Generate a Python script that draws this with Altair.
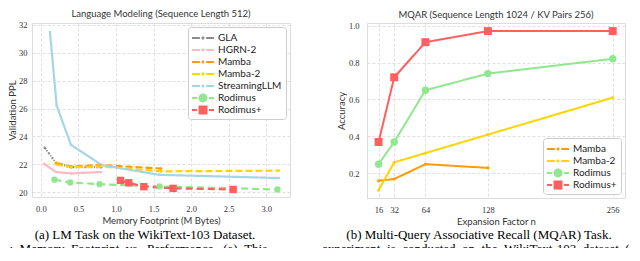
import altair as alt
import pandas as pd

# ---------------- data: left panel (LM on WikiText-103) ----------------
lm_series = ["GLA", "HGRN-2", "Mamba", "Mamba-2", "StreamingLLM", "Rodimus", "Rodimus+"]
lm_colors = ["#8a8a8a", "#ffb8c4", "#ff9c00", "#ffd400", "#a6d5e6", "#8fe88f", "#ff5f5f"]

gla_mem = [0.05, 0.2, 0.4, 0.8]
gla_ppl = [23.2, 22.1, 21.8, 21.8]
hgrn_mem = [0.04, 0.2, 0.4, 0.8]
hgrn_ppl = [22.05, 21.45, 21.35, 21.45]
mamba_mem = [0.2, 0.4, 0.8, 1.6]
mamba_ppl = [22.1, 21.85, 21.95, 21.7]
mamba2_mem = [0.2, 0.4, 0.8, 1.6, 3.17]
mamba2_ppl = [22.0, 21.8, 21.85, 21.5, 21.55]
stream_mem = [0.12, 0.21, 0.40, 0.81, 1.58, 3.17]
stream_ppl = [31.5, 26.2, 23.4, 21.95, 21.25, 21.02]
rod_mem = [0.18, 0.39, 0.78, 1.58, 3.15]
rod_ppl = [20.9, 20.7, 20.58, 20.42, 20.2]
rodp_mem = [1.06, 1.17, 1.37, 1.76, 2.56]
rodp_ppl = [20.85, 20.68, 20.4, 20.28, 20.2]

lm_x_ticks = [0.0, 0.5, 1.0, 1.5, 2.0, 2.5, 3.0]
lm_y_ticks = [20, 22, 24, 26, 28, 30, 32]

# ---------------- data: right panel (MQAR) ----------------
mq_series = ["Mamba", "Mamba-2", "Rodimus", "Rodimus+"]
mq_colors = ["#ff9c00", "#ffd400", "#8fe88f", "#ff5f5f"]
mq_n = [16, 32, 64, 128, 256]
mq_mamba = [0.16, 0.17, 0.25, 0.23]
mq_mamba2 = [0.11, 0.26, 0.31, 0.41, 0.61]
mq_rod = [0.25, 0.37, 0.65, 0.74, 0.82]
mq_rodp = [0.37, 0.72, 0.91, 0.97, 0.97]
mq_y_ticks = [0.2, 0.4, 0.6, 0.8, 1.0]

caption_a = "(a) LM Task on the WikiText-103 Dataset."
caption_b = "(b) Multi-Query Associative Recall (MQAR) Task."
NB = "\u00a0\u00a0"
body_left = NB.join(["1:", "Memory", "Footprint", "vs.", "Performance.", "(a)", "This"])
body_right = NB.join(["experiment", "is", "conducted", "on", "the", "WikiText-103", "dataset", "("])

SANS = "Lato"
SERIF = "Liberation Serif"


def rect(a, b, h):
    return f"M{a},{-h}H{b}V{h}H{a}Z"


def circ(r):
    return f"M{r},0A{r},{r} 0 1,1 {-r},0A{r},{r} 0 1,1 {r},0Z"


def sq(r):
    return f"M{-r},{-r}H{r}V{r}H{-r}Z"


H = 0.15
small_sym = rect(-1.57, -0.45, H) + circ(0.22) + rect(0.45, 1.57, H)
rod_sym = rect(-1.57, -0.85, H) + circ(0.64) + rect(0.85, 1.57, H)
rodp_sym = rect(-1.57, -0.85, H) + sq(0.64) + rect(0.85, 1.57, H)


def build_df(names, xs_list, ys_list, xname, yname):
    rows = []
    for name, xs, ys in zip(names, xs_list, ys_list):
        for i, (a, b) in enumerate(zip(xs, ys)):
            rows.append({"series": name, xname: a, yname: b, "i": i})
    return pd.DataFrame(rows)


lm_df = build_df(
    lm_series,
    [gla_mem, hgrn_mem, mamba_mem, mamba2_mem, stream_mem, rod_mem, rodp_mem],
    [gla_ppl, hgrn_ppl, mamba_ppl, mamba2_ppl, stream_ppl, rod_ppl, rodp_ppl],
    "mem", "ppl",
)
mq_df = build_df(
    mq_series,
    [mq_n[:4], mq_n, mq_n, mq_n],
    [mq_mamba, mq_mamba2, mq_rod, mq_rodp],
    "n", "acc",
)


def legend_props(orient, offset):
    return dict(
        title=None, orient=orient, offset=offset, fillColor="white", strokeColor="#cccccc",
        cornerRadius=3, padding=4, symbolSize=196, symbolOffset=4, labelOffset=8,
        labelFont=SANS, labelFontSize=10, labelColor="#222222", rowPadding=0,
        symbolStrokeWidth=0,
    )


def panel(df, xf, yf, series, colors, dashes, sizes_small, big_circle, big_square,
          xscale, yscale, xaxis, yaxis, title, w, h, orient, offset, line_w, syms):
    color_scale = alt.Scale(domain=series, range=colors)
    base = alt.Chart(df).encode(
        x=alt.X(f"{xf}:Q", scale=xscale, axis=xaxis),
        y=alt.Y(f"{yf}:Q", scale=yscale, axis=yaxis),
    )
    legend_layer = base.mark_point(filled=True, opacity=1).encode(
        color=alt.Color("series:N", scale=color_scale, legend=alt.Legend(**legend_props(orient, offset))),
        shape=alt.Shape("series:N", scale=alt.Scale(domain=series, range=syms),
                        legend=alt.Legend(**legend_props(orient, offset))),
    ).transform_filter("false")
    lines = base.mark_line(strokeWidth=line_w).encode(
        color=alt.Color("series:N", scale=color_scale, legend=None),
        strokeDash=alt.StrokeDash("series:N", scale=alt.Scale(domain=series, range=dashes), legend=None),
        order="i:Q",
    )
    dots = base.mark_point(filled=True, opacity=1, shape="circle", size=sizes_small).encode(
        color=alt.Color("series:N", scale=color_scale, legend=None),
    ).transform_filter(alt.FieldOneOfPredicate(field="series", oneOf=[s for s in series if s not in ("Rodimus", "Rodimus+")]))
    circles = base.mark_point(filled=True, opacity=1, shape="circle", size=big_circle).encode(
        color=alt.Color("series:N", scale=color_scale, legend=None),
    ).transform_filter(alt.datum.series == "Rodimus")
    squares = base.mark_point(filled=True, opacity=1, shape="square", size=big_square).encode(
        color=alt.Color("series:N", scale=color_scale, legend=None),
    ).transform_filter(alt.datum.series == "Rodimus+")
    return alt.layer(legend_layer, lines, dots, circles, squares).properties(
        width=w, height=h,
        title=alt.Title(title, font=SANS, fontSize=9.5, fontWeight="normal", color="#333333", offset=2),
    )


grid_axis = dict(grid=True, gridDash=[3, 2], gridColor="#d8d8d8", gridWidth=0.8, ticks=False,
                 domain=False, labelFont=SERIF, labelFontSize=8.5, labelColor="#333333",
                 titleFont=SANS, titleFontSize=9.5, titleFontWeight="normal", titleColor="#333333")

left = panel(
    lm_df, "mem", "ppl", lm_series, lm_colors,
    [[2, 1.5, 1, 1.5], [1, 0], [7, 3], [7, 3], [1, 0], [7, 4], [7, 4]],
    6, 40, 55,
    alt.Scale(domain=[-0.119, 3.317], nice=False, zero=False),
    alt.Scale(domain=[19.66, 32.14], nice=False, zero=False),
    alt.Axis(values=lm_x_ticks, format=".1f", title="Memory Footprint (M Bytes)", labelPadding=7, titlePadding=3, **grid_axis),
    alt.Axis(values=lm_y_ticks, format="d", title="Validation PPL", labelPadding=5, titlePadding=1, **grid_axis),
    "Language Modeling (Sequence Length 512)", 258, 174, "top-right", 4, 2.2,
    [small_sym, small_sym, small_sym, small_sym, small_sym, rod_sym, rodp_sym],
)

cap_a = alt.Chart(pd.DataFrame({"t": [caption_a]})).mark_text(
    font=SERIF, fontSize=13, color="#000000", align="center", baseline="alphabetic"
).encode(x=alt.value(113), y=alt.value(216), text="t:N")
body_a = alt.Chart(pd.DataFrame({"t": [body_left]})).mark_text(
    font=SERIF, fontSize=13, color="#000000", align="left", baseline="alphabetic"
).encode(x=alt.value(-29), y=alt.value(230), text="t:N")
left = alt.layer(left, cap_a, body_a)

right = panel(
    mq_df, "n", "acc", mq_series, mq_colors,
    [[1, 0], [1, 0], [1, 0], [1, 0]],
    10, 55, 64,
    alt.Scale(domain=[4.1, 268.6], nice=False, zero=False),
    alt.Scale(domain=[0.067, 1.0138], nice=False, zero=False),
    alt.Axis(values=mq_n, format="d", title="Expansion Factor n", labelPadding=7, titlePadding=3, **grid_axis),
    alt.Axis(values=mq_y_ticks, format=".1f", title="Accuracy", labelPadding=8, titlePadding=2, **grid_axis),
    "MQAR (Sequence Length 1024 / KV Pairs 256)", 258, 175, "bottom-right", 4, 2.0,
    [small_sym, small_sym, rod_sym, rodp_sym],
)
cap_b = alt.Chart(pd.DataFrame({"t": [caption_b]})).mark_text(
    font=SERIF, fontSize=13, color="#000000", align="center", baseline="alphabetic"
).encode(x=alt.value(112), y=alt.value(216), text="t:N")
body_b = alt.Chart(pd.DataFrame({"t": [body_right]})).mark_text(
    font=SERIF, fontSize=13, color="#000000", align="left", baseline="alphabetic"
).encode(x=alt.value(-45), y=alt.value(230), text="t:N")
right = alt.layer(right, cap_b, body_b)

chart = alt.hconcat(left, right, spacing=77, bounds="flush").resolve_scale(
    color="independent", shape="independent", strokeDash="independent", x="independent", y="independent"
).properties(
    autosize=alt.AutoSizeParams(type="none"),
    padding={"left": 24, "top": 15, "right": 600, "bottom": 225},
).configure_view(
    stroke="#cccccc", strokeWidth=1.2
).configure(background="white")

chart.save("out.html", embed_options={"renderer": "svg", "actions": False})
